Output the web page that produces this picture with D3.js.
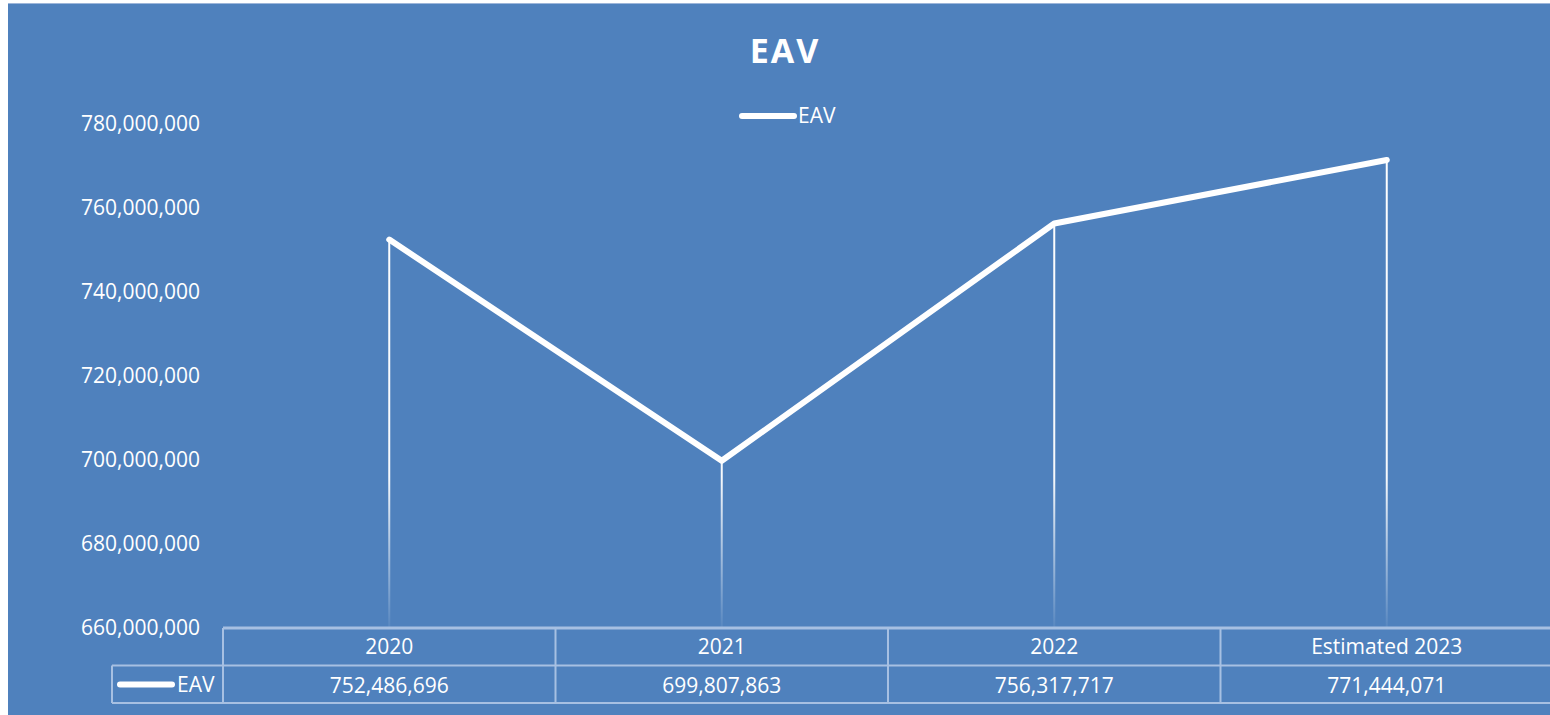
<!DOCTYPE html>
<html>
<head>
<meta charset="utf-8">
<script src="https://cdn.jsdelivr.net/npm/d3@7"></script>
<style>
  body { margin: 0; background: #fff; }
  svg { display: block; }
  text { font-family: "Open Sans", sans-serif; fill: #fff; }
</style>
</head>
<body>
<div id="chart"></div>
<script>
var categories = ["2020", "2021", "2022", "Estimated 2023"];
var eavValues = [752486696, 699807863, 756317717, 771444071];
var yTicks = [660000000, 680000000, 700000000, 720000000, 740000000, 760000000, 780000000];
var seriesName = "EAV";

var width = 1550, height = 715;
var bg = "#4f81bd";
var gridColor = "#a7c0e2";
var plot = { left: 223, right: 1553, top: 124, bottom: 628 };
var rowH = 37.5;

var svg = d3.select("#chart")
    .append("svg")
    .attr("width", width)
    .attr("height", height);

// chart area
svg.append("rect")
    .attr("x", 8).attr("y", 3)
    .attr("width", width - 8).attr("height", height - 3)
    .attr("fill", bg);
svg.append("line")
    .attr("x1", 8).attr("x2", width).attr("y1", 3.5).attr("y2", 3.5)
    .attr("stroke", "#9db6da").attr("stroke-width", 1);

var x = d3.scaleBand()
    .domain(categories)
    .range([plot.left, plot.right]);

var y = d3.scaleLinear()
    .domain([660000000, 780000000])
    .range([plot.bottom, plot.top]);

var fmt = d3.format(",");

// title
svg.append("text")
    .attr("x", 785).attr("y", 63)
    .attr("text-anchor", "middle")
    .attr("font-size", "34px")
    .attr("font-weight", "bold")
    .attr("letter-spacing", "2px")
    .text(seriesName);

// legend
svg.append("line")
    .attr("x1", 742).attr("x2", 794).attr("y1", 116).attr("y2", 116)
    .attr("stroke", "#fff").attr("stroke-width", 6).attr("stroke-linecap", "round");
svg.append("text")
    .attr("x", 798).attr("y", 123)
    .attr("font-size", "21px")
    .text(seriesName);

// y axis labels
var yAxis = d3.axisLeft(y).tickValues(yTicks).tickFormat(fmt).tickSize(0).tickPadding(0);
var yg = svg.append("g")
    .attr("transform", "translate(200,0)")
    .call(yAxis);
yg.select(".domain").remove();
yg.selectAll("text")
    .attr("font-family", "Open Sans")
    .attr("font-size", "21px")
    .attr("fill", "#fff");

// drop lines with fade
var defs = svg.append("defs");
var grad = defs.append("linearGradient")
    .attr("id", "dropFade")
    .attr("gradientUnits", "userSpaceOnUse")
    .attr("x1", 0).attr("x2", 0)
    .attr("y1", plot.top).attr("y2", plot.bottom);
grad.append("stop").attr("offset", "0").attr("stop-color", "#fff").attr("stop-opacity", 1);
grad.append("stop").attr("offset", "0.7").attr("stop-color", "#fff").attr("stop-opacity", 0.95);
grad.append("stop").attr("offset", "1").attr("stop-color", "#fff").attr("stop-opacity", 0.05);

svg.selectAll(".drop")
    .data(eavValues)
    .enter()
    .append("rect")
    .attr("class", "drop")
    .attr("x", (d, i) => x(categories[i]) + x.bandwidth() / 2 - 1)
    .attr("y", d => y(d))
    .attr("width", 2)
    .attr("height", d => plot.bottom - y(d))
    .attr("fill", "url(#dropFade)");

// line
var line = d3.line()
    .x((d, i) => x(categories[i]) + x.bandwidth() / 2)
    .y(d => y(d));

svg.append("path")
    .datum(eavValues)
    .attr("d", line)
    .attr("fill", "none")
    .attr("stroke", "#fff")
    .attr("stroke-width", 6)
    .attr("stroke-linecap", "round")
    .attr("stroke-linejoin", "round");

// data table
var t = svg.append("g").attr("stroke", gridColor).attr("stroke-width", 2).attr("fill", "none");
var tTop = plot.bottom, tMid = plot.bottom + rowH, tBot = plot.bottom + 2 * rowH;
t.append("line").attr("x1", plot.left).attr("x2", width).attr("y1", tTop).attr("y2", tTop).attr("stroke-width", 3);
t.append("line").attr("x1", 112).attr("x2", width).attr("y1", tMid).attr("y2", tMid);
t.append("line").attr("x1", 112).attr("x2", width).attr("y1", tBot).attr("y2", tBot);
t.append("line").attr("x1", 112).attr("x2", 112).attr("y1", tMid).attr("y2", tBot);
t.selectAll(".col")
    .data(categories)
    .enter()
    .append("line")
    .attr("x1", d => x(d)).attr("x2", d => x(d))
    .attr("y1", tTop).attr("y2", tBot);

svg.selectAll(".cat")
    .data(categories)
    .enter()
    .append("text")
    .attr("x", d => x(d) + x.bandwidth() / 2)
    .attr("y", tTop + 26)
    .attr("text-anchor", "middle")
    .attr("font-size", "21px")
    .text(d => d);

svg.selectAll(".val")
    .data(eavValues)
    .enter()
    .append("text")
    .attr("x", (d, i) => x(categories[i]) + x.bandwidth() / 2)
    .attr("y", tMid + 27)
    .attr("text-anchor", "middle")
    .attr("font-size", "21px")
    .text(d => fmt(d));

// legend key in table
svg.append("line")
    .attr("x1", 120).attr("x2", 172).attr("y1", tMid + 19).attr("y2", tMid + 19)
    .attr("stroke", "#fff").attr("stroke-width", 6).attr("stroke-linecap", "round");
svg.append("text")
    .attr("x", 177).attr("y", tMid + 26)
    .attr("font-size", "21px")
    .text(seriesName);
</script>
</body>
</html>
